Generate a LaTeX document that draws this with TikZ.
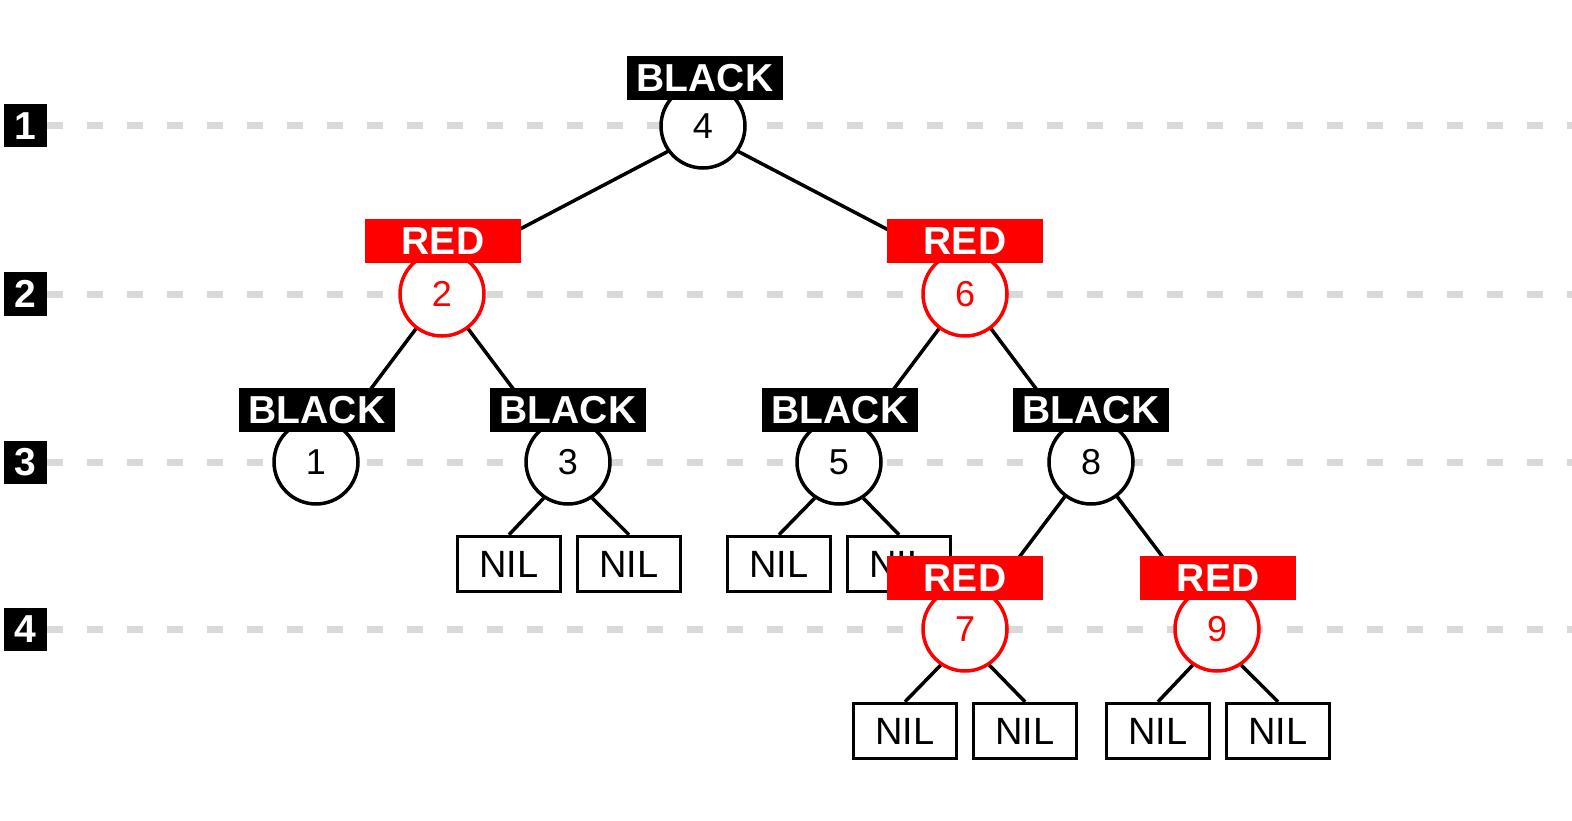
\documentclass[tikz,border=0pt]{standalone}
\usepackage{fontspec}
\setmainfont{Liberation Sans}
\definecolor{dashgray}{RGB}{217,217,217}
\definecolor{rbred}{RGB}{255,0,0}
\begin{document}
\begin{tikzpicture}[x=1pt,y=-1pt,
  blk/.style={circle,draw=black,line width=3.5pt,fill=white,minimum size=84pt,inner sep=0pt,font=\fontsize{36}{36}\selectfont},
  redc/.style={blk,draw=rbred,text=rbred},
  lblblack/.style={fill=black,text=white,minimum width=156pt,minimum height=44pt,inner sep=0pt,font=\fontsize{39}{39}\selectfont\bfseries},
  lblred/.style={lblblack,fill=rbred},
  nilbox/.style={draw=black,line width=3.5pt,fill=white,minimum width=103pt,minimum height=55pt,inner sep=0pt,font=\fontsize{38}{38}\selectfont},
  lvl/.style={fill=black,text=white,minimum size=43pt,inner sep=0pt,font=\fontsize{39}{39}\selectfont\bfseries},
  grid/.style={draw=dashgray,line width=7pt,dash pattern=on 16pt off 24pt},
  edge/.style={draw=black,line width=3.5pt}]
\useasboundingbox (0,0) rectangle (1572,821);
% level markers
\foreach \i/\y in {1/126,2/294,3/462,4/629}{
  \node[lvl] (L\i) at (25,\y) {\i};
  \coordinate (E\i) at (1572,\y);
  \draw[grid] (L\i.east) -- (E\i);
}
% coordinates of nodes
\coordinate (p4) at (703,126);
\coordinate (p2) at (442,294);
\coordinate (p6) at (965,294);
\coordinate (p1) at (316,462);
\coordinate (p3) at (568,462);
\coordinate (p5) at (839,462);
\coordinate (p8) at (1091,462);
\coordinate (p7) at (965,629);
\coordinate (p9) at (1217,629);
% top edges
\coordinate (t2) at (442,270);
\coordinate (t6) at (965,270);
\coordinate (t4) at (703,133);
\draw[edge] (t4) -- (t2);
\draw[edge] (t4) -- (t6);
\draw[edge] (p2) -- (p1);
\draw[edge] (p2) -- (p3);
\draw[edge] (p6) -- (p5);
\draw[edge] (p6) -- (p8);
\draw[edge] (p8) -- (p7);
\draw[edge] (p8) -- (p9);
% circles
\node[blk] (n4) at (p4) {4};
\node[redc] (n2) at (p2) {2};
\node[redc] (n6) at (p6) {6};
\node[blk] (n1) at (p1) {1};
\node[blk] (n3) at (p3) {3};
\node[blk] (n5) at (p5) {5};
\node[blk] (n8) at (p8) {8};
\node[redc] (n7) at (p7) {7};
\node[redc] (n9) at (p9) {9};
% NIL boxes
\node[nilbox] (a1) at (509,564) {NIL};
\node[nilbox] (a2) at (629,564) {NIL};
\node[nilbox] (b1) at (779,564) {NIL};
\node[nilbox] (b2) at (899,564) {NIL};
\node[nilbox] (c1) at (905,731) {NIL};
\node[nilbox] (c2) at (1025,731) {NIL};
\node[nilbox] (d1) at (1158,731) {NIL};
\node[nilbox] (d2) at (1278,731) {NIL};
\foreach \p/\l/\r in {n3/a1/a2,n5/b1/b2,n7/c1/c2,n9/d1/d2}{
  \draw[edge] (\p.236) -- (\l.north);
  \draw[edge] (\p.304) -- (\r.north);
}
% color labels
\node[lblblack] (k4) at (705,78) {BLACK};
\node[lblred] (k2) at (443,241) {RED};
\node[lblred] (k6) at (965,241) {RED};
\node[lblblack] (k1) at (317,410) {BLACK};
\node[lblblack] (k3) at (568,410) {BLACK};
\node[lblblack] (k5) at (840,410) {BLACK};
\node[lblblack] (k8) at (1091,410) {BLACK};
\node[lblred] (k7) at (965,578) {RED};
\node[lblred] (k9) at (1218,578) {RED};
\end{tikzpicture}
\end{document}
